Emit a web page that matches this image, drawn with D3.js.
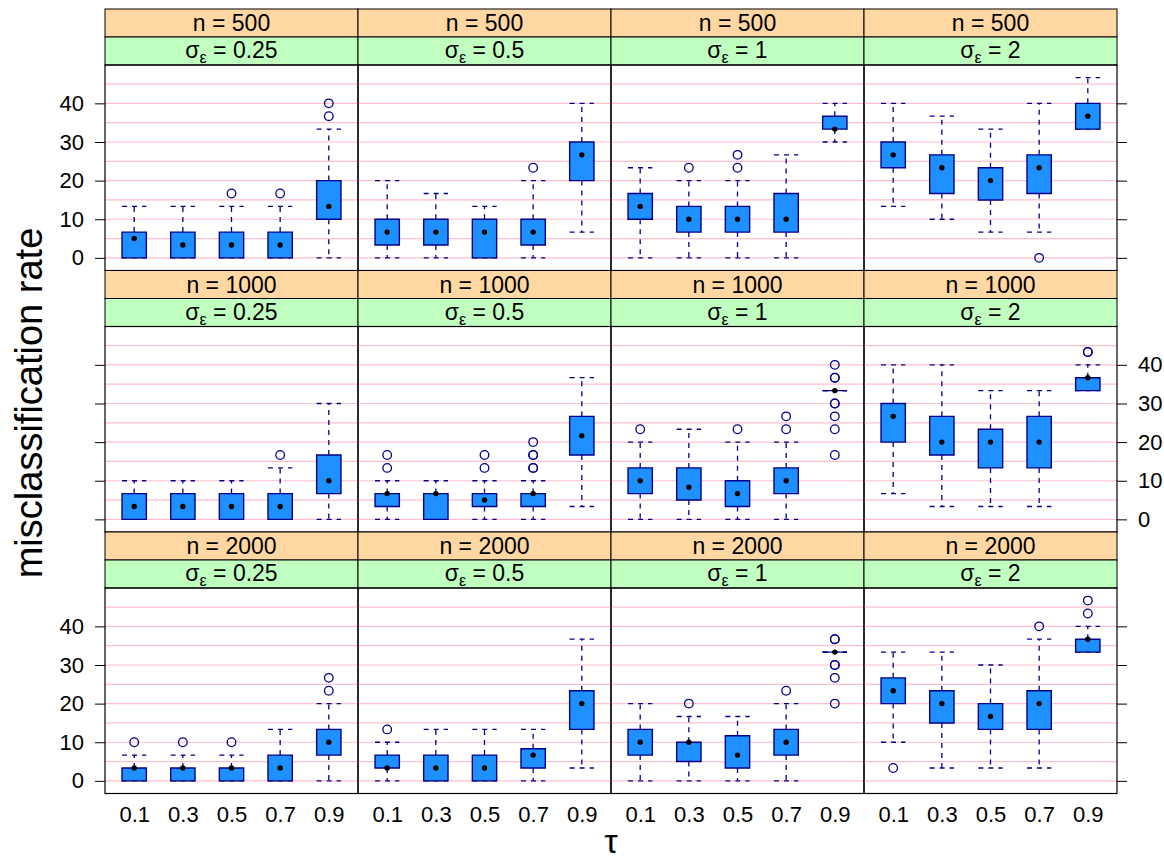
<!DOCTYPE html>
<html><head><meta charset="utf-8">
<script src="https://cdn.jsdelivr.net/npm/d3@7"></script>
<style>body{margin:0;background:#fff}</style>
</head><body><svg id="c" width="1164" height="862"></svg>
<script>
const nLevels = ["500", "1000", "2000"];
const sigmaLevels = ["0.25", "0.5", "1", "2"];
const tauLevels = ["0.1", "0.3", "0.5", "0.7", "0.9"];
const yTicks = [0, 10, 20, 30, 40];
const gridValues = [0, 5, 10, 15, 20, 25, 30, 35, 40, 45];

// panels in row-major order (n = 500: sigma 0.25, 0.5, 1, 2; n = 1000 ...; n = 2000 ...), one value per tau
const lowerWhisker = [
  [0, 0, 0, 0, 0], [0, 0, 0, 0, 6.67], [0, 0, 0, 0, 30], [13.33, 10, 6.67, 6.67, 33.33],
  [0, 0, 0, 0, 0], [0, 0, 0, 0, 3.33], [0, 0, 0, 0, 33.33], [6.67, 3.33, 3.33, 3.33, 33.33],
  [0, 0, 0, 0, 0], [0, 0, 0, 0, 3.33], [0, 0, 0, 0, 33.33], [10, 3.33, 3.33, 3.33, 33.33]
];
const lowerHinge = [
  [0, 0, 0, 0, 10], [3.33, 3.33, 0, 3.33, 20], [10, 6.67, 6.67, 6.67, 33.33], [23.33, 16.67, 15, 16.67, 33.33],
  [0, 0, 0, 0, 6.67], [3.33, 0, 3.33, 3.33, 16.67], [6.67, 5, 3.33, 6.67, 33.33], [20, 16.67, 13.33, 13.33, 33.33],
  [0, 0, 0, 0, 6.67], [3.33, 0, 0, 3.33, 13.33], [6.67, 5, 3.33, 6.67, 33.33], [20, 15, 13.33, 13.33, 33.33]
];
const medians = [
  [5, 3.33, 3.33, 3.33, 13.33], [6.67, 6.67, 6.67, 6.67, 26.67], [13.33, 10, 10, 10, 33.33], [26.67, 23.33, 20, 23.33, 36.67],
  [3.33, 3.33, 3.33, 3.33, 10], [6.67, 6.67, 5, 6.67, 21.67], [10, 8.33, 6.67, 10, 33.33], [26.67, 20, 20, 20, 36.67],
  [3.33, 3.33, 3.33, 3.33, 10], [3.33, 3.33, 3.33, 6.67, 20], [10, 10, 6.67, 10, 33.33], [23.33, 20, 16.67, 20, 36.67]
];
const upperHinge = [
  [6.67, 6.67, 6.67, 6.67, 20], [10, 10, 10, 10, 30], [16.67, 13.33, 13.33, 16.67, 36.67], [30, 26.67, 23.33, 26.67, 40],
  [6.67, 6.67, 6.67, 6.67, 16.67], [6.67, 6.67, 6.67, 6.67, 26.67], [13.33, 13.33, 10, 13.33, 33.33], [30, 26.67, 23.33, 26.67, 36.67],
  [3.33, 3.33, 3.33, 6.67, 13.33], [6.67, 6.67, 6.67, 8.33, 23.33], [13.33, 10, 11.67, 13.33, 33.33], [26.67, 23.33, 20, 23.33, 36.67]
];
const upperWhisker = [
  [13.33, 13.33, 13.33, 13.33, 33.33], [20, 16.67, 13.33, 20, 40], [23.33, 20, 20, 26.67, 40], [40, 36.67, 33.33, 40, 46.67],
  [10, 10, 10, 13.33, 30], [10, 10, 10, 10, 36.67], [20, 23.33, 20, 20, 33.33], [40, 40, 33.33, 33.33, 40],
  [6.67, 6.67, 6.67, 13.33, 20], [10, 13.33, 13.33, 13.33, 36.67], [20, 16.67, 16.67, 20, 33.33], [33.33, 33.33, 30, 36.67, 40]
];
const outliers = [
  [[], [], [16.67], [16.67], [36.67, 40]],
  [[], [], [], [23.33], []],
  [[], [23.33], [23.33, 26.67], [], []],
  [[], [], [], [0], []],
  [[], [], [], [16.67], []],
  [[13.33, 16.67], [], [13.33, 16.67], [13.33, 13.33, 16.67, 16.67, 20], []],
  [[23.33], [], [23.33], [23.33, 26.67], [16.67, 23.33, 26.67, 30, 30, 36.67, 36.67, 40]],
  [[], [], [], [], [43.33, 43.33]],
  [[10], [10], [10], [], [23.33, 26.67]],
  [[13.33], [], [], [], []],
  [[], [20], [], [23.33], [20, 26.67, 30, 30, 36.67, 36.67]],
  [[3.33], [], [], [40], [43.33, 46.67]]
];

const FONT = "'Liberation Sans', Arial, Helvetica, sans-serif";
const svg = d3.select("#c").style("font-family", FONT);
svg.append("rect").attr("width", 1164).attr("height", 862).attr("fill", "#fff");

const colEdges = [105, 358, 611, 864, 1117];
const rowTops = [9, 270.5, 532];
const stripH = 28;
const panelH = 205.5;
const boxCol = "#00008B";
const TICKFS = 22, STRIPFS = 23;

nLevels.forEach((nv, r) => {
  sigmaLevels.forEach((sv, c) => {
    const p = r * sigmaLevels.length + c;
    const x0 = colEdges[c], x1 = colEdges[c + 1];
    const top = rowTops[r];
    const pTop = top + 2 * stripH, pBot = pTop + panelH;
    const x = d3.scalePoint().domain(tauLevels).range([x0, x1]).padding(0.6);
    const y = d3.scaleLinear().domain([-3.27, 49.93]).range([pBot, pTop]);
    const g = svg.append("g");

    // strips
    g.append("rect").attr("x", x0).attr("y", top).attr("width", x1 - x0).attr("height", stripH)
      .attr("fill", "#FFD7A3").attr("stroke", "#000").attr("stroke-width", 1);
    g.append("rect").attr("x", x0).attr("y", top + stripH).attr("width", x1 - x0).attr("height", stripH)
      .attr("fill", "#C1FFC1").attr("stroke", "#000").attr("stroke-width", 1);
    g.append("text").attr("x", (x0 + x1) / 2).attr("y", top + 22)
      .attr("text-anchor", "middle").attr("font-size", STRIPFS).text("n = " + nv);
    const st = g.append("text").attr("x", (x0 + x1) / 2).attr("y", top + stripH + 21)
      .attr("text-anchor", "middle").attr("font-size", STRIPFS);
    st.append("tspan").text("σ");
    st.append("tspan").attr("font-size", 16).attr("dy", 5).text("ε");
    st.append("tspan").attr("dy", -5).text(" = " + sv);

    // grid
    g.selectAll("line.grid").data(gridValues).join("line").attr("class", "grid")
      .attr("x1", x0).attr("x2", x1).attr("y1", d => y(d)).attr("y2", d => y(d))
      .attr("stroke", "#FFC0CB").attr("stroke-width", 1.2);

    const bw = x.step() * 0.5;
    tauLevels.forEach((t, i) => {
      const cx = x(t);
      const lw = lowerWhisker[p][i], q1 = lowerHinge[p][i], md = medians[p][i], q3 = upperHinge[p][i], uw = upperWhisker[p][i];
      const wg = g.append("g").attr("stroke", boxCol).attr("stroke-width", 1.3).attr("stroke-dasharray", "5,5").attr("fill", "none");
      wg.append("line").attr("x1", cx).attr("x2", cx).attr("y1", y(q3)).attr("y2", y(uw));
      wg.append("line").attr("x1", cx).attr("x2", cx).attr("y1", y(q1)).attr("y2", y(lw));
      wg.append("line").attr("x1", cx - bw / 2).attr("x2", cx + bw / 2).attr("y1", y(uw)).attr("y2", y(uw));
      wg.append("line").attr("x1", cx - bw / 2).attr("x2", cx + bw / 2).attr("y1", y(lw)).attr("y2", y(lw));
      const yq3 = y(q3), yq1 = y(q1);
      g.append("path")
        .attr("d", `M${cx - bw / 2},${yq3}H${cx + bw / 2}V${yq1}H${cx - bw / 2}Z`)
        .attr("fill", "#1E90FF").attr("stroke", boxCol).attr("stroke-width", 1.4);
      g.append("circle").attr("cx", cx).attr("cy", y(md)).attr("r", 2.7).attr("fill", "#000");
      g.selectAll(null).data(outliers[p][i]).join("circle")
        .attr("cx", cx).attr("cy", d => y(d)).attr("r", 4.3)
        .attr("fill", "none").attr("stroke", boxCol).attr("stroke-width", 1.3);
    });

    // panel border
    g.append("rect").attr("x", x0).attr("y", pTop).attr("width", x1 - x0).attr("height", panelH)
      .attr("fill", "none").attr("stroke", "#000").attr("stroke-width", 1.2);

    // axes
    if (c === 0) {
      const ax = d3.axisLeft(y).tickValues(yTicks).tickSize(10).tickPadding(11)
        .tickFormat(r === 1 ? () => "" : d3.format("d"));
      const a = svg.append("g").attr("transform", `translate(${x0},0)`).call(ax);
      a.select(".domain").remove();
      a.selectAll("text").attr("font-size", TICKFS).attr("font-family", FONT).attr("fill", "#000");
      a.selectAll("line").attr("stroke", "#000");
    }
    if (c === sigmaLevels.length - 1) {
      const ax = d3.axisRight(y).tickValues(yTicks).tickSize(10).tickPadding(11)
        .tickFormat(r === 1 ? d3.format("d") : () => "");
      const a = svg.append("g").attr("transform", `translate(${x1},0)`).call(ax);
      a.select(".domain").remove();
      a.selectAll("text").attr("font-size", TICKFS).attr("font-family", FONT).attr("fill", "#000");
      a.selectAll("line").attr("stroke", "#000");
    }
    if (r === nLevels.length - 1) {
      const ax = d3.axisBottom(x).tickSize(0).tickPadding(13);
      const a = svg.append("g").attr("transform", `translate(0,${pBot})`).call(ax);
      a.select(".domain").remove();
      a.selectAll("text").attr("font-size", TICKFS).attr("font-family", FONT).attr("fill", "#000");
    }
  });
});

svg.append("text").attr("transform", "translate(42,403) rotate(-90)")
  .attr("text-anchor", "middle").attr("font-size", 38).text("misclassification rate");
svg.append("text").attr("x", 611).attr("y", 853)
  .attr("text-anchor", "middle").attr("font-size", 34).text("τ");
</script></body></html>
